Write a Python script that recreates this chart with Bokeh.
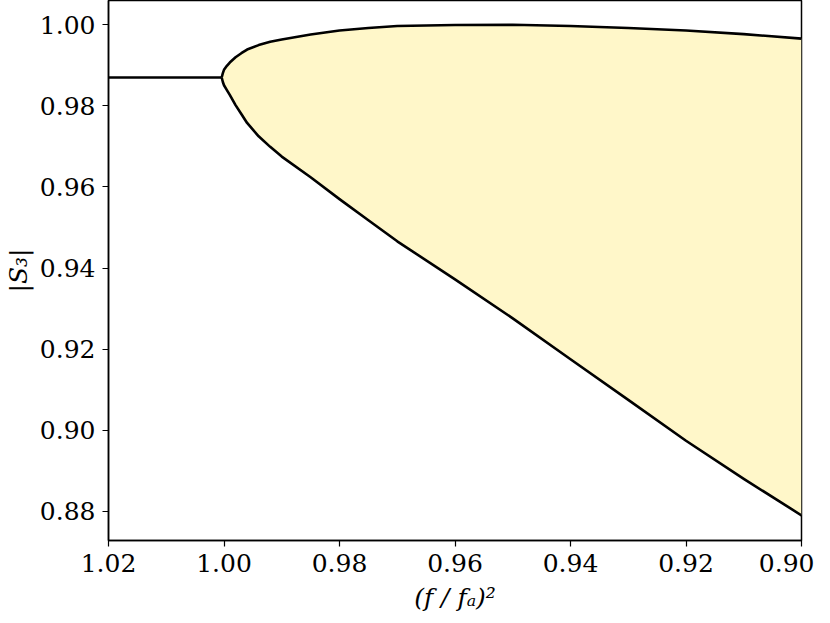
from bokeh.plotting import figure
from bokeh.models import Range1d, FixedTicker, CustomJSTickFormatter
from bokeh.embed import file_html
from bokeh.resources import INLINE

# ---- data ----
x_flat = [1.02, 1.0004]
y_flat = [0.9870, 0.9870]

x_branch = [1.0004, 1.0002, 1.0000, 0.9995, 0.999, 0.998, 0.997, 0.996, 0.994, 0.992,
            0.990, 0.985, 0.980, 0.975, 0.970, 0.960, 0.950, 0.940, 0.930, 0.920,
            0.910, 0.900]
y_upper = [0.9870, 0.9881, 0.9889, 0.9899, 0.9907, 0.9920, 0.9930, 0.9939, 0.9950, 0.9958,
           0.9964, 0.9976, 0.9986, 0.9992, 0.9997, 0.99995, 1.0000, 0.9997, 0.9992, 0.9986,
           0.9977, 0.9966]
y_lower = [0.9870, 0.9859, 0.9851, 0.9839, 0.9827, 0.9802, 0.9780, 0.9758, 0.9725, 0.9699,
           0.9675, 0.9624, 0.9570, 0.9518, 0.9466, 0.9372, 0.9276, 0.9175, 0.9075, 0.8974,
           0.8880, 0.8790]

x_ticks = [1.02, 1.00, 0.98, 0.96, 0.94, 0.92, 0.90]
y_ticks = [0.88, 0.90, 0.92, 0.94, 0.96, 0.98, 1.00]

FONT = "DejaVu Serif"

p = figure(width=814, height=614, output_backend="svg", toolbar_location=None,
           x_range=Range1d(1.02, 0.90), y_range=Range1d(0.8728, 1.006),
           min_border_left=104, min_border_right=13, min_border_top=0,
           min_border_bottom=60)

p.varea(x=x_branch, y1=y_lower, y2=y_upper, fill_color="#fff7c9", fill_alpha=1.0)
p.line(x=x_flat, y=y_flat, line_color="black", line_width=2.6)
p.line(x=x_branch, y=y_upper, line_color="black", line_width=2.6, line_join="round")
p.line(x=x_branch, y=y_lower, line_color="black", line_width=2.6, line_join="round")

p.xgrid.visible = False
p.ygrid.visible = False
p.outline_line_color = "black"
p.outline_line_width = 1.5
p.background_fill_color = "white"
p.border_fill_color = "white"

p.xaxis.ticker = FixedTicker(ticks=x_ticks)
p.yaxis.ticker = FixedTicker(ticks=y_ticks)
p.xaxis.formatter = CustomJSTickFormatter(code="return tick.toFixed(2);")
p.yaxis.formatter = CustomJSTickFormatter(code="return tick.toFixed(2);")

for ax in (p.xaxis[0], p.yaxis[0]):
    ax.major_tick_out = 6
    ax.major_tick_in = 0
    ax.minor_tick_out = 0
    ax.minor_tick_in = 0
    ax.major_tick_line_color = "black"
    ax.major_tick_line_width = 1.2
    ax.axis_line_color = "black"
    ax.axis_line_width = 1.5
    ax.major_label_text_font = FONT
    ax.major_label_text_font_size = "25px"
    ax.major_label_text_color = "black"
    ax.axis_label_text_font = FONT
    ax.axis_label_text_font_size = "25px"
    ax.axis_label_text_color = "black"
    ax.axis_label_text_font_style = "italic"

p.xaxis.axis_label = "(f / fₐ)²"
p.yaxis.axis_label = "|S₃|"
p.xaxis.major_label_standoff = 7
p.yaxis.major_label_standoff = 7
p.xaxis.axis_label_standoff = 8
p.yaxis.axis_label_standoff = 4

open("out.html", "w").write(file_html(p, INLINE))
